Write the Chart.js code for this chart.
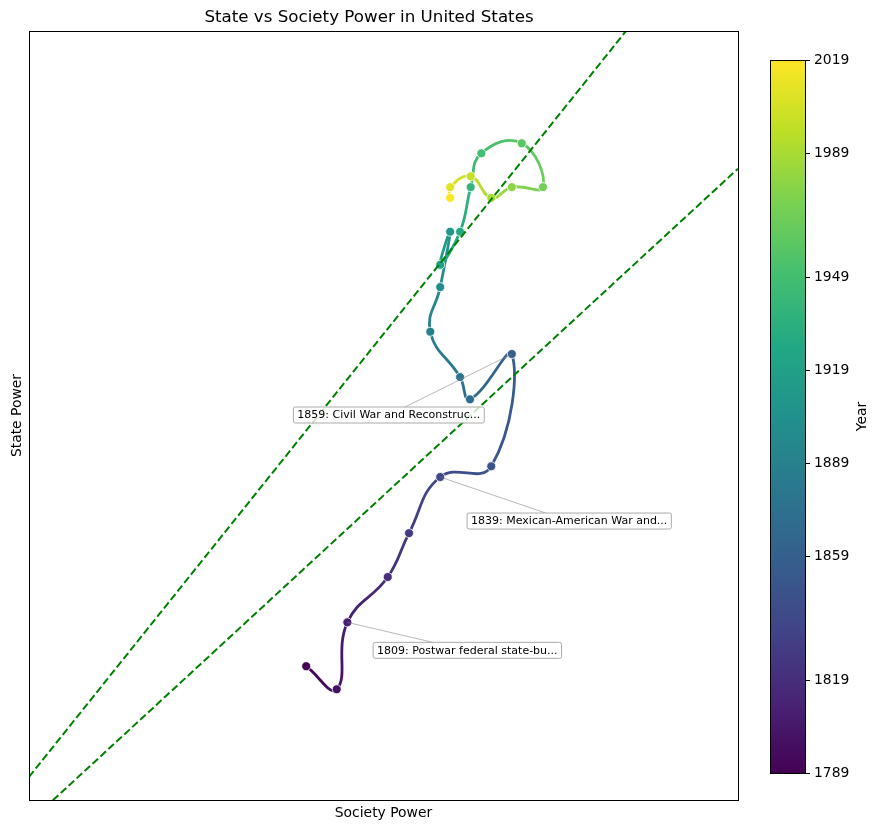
<!DOCTYPE html>
<html>
<head>
<meta charset="utf-8">
<script src="https://cdn.jsdelivr.net/npm/chart.js@4.4.0/dist/chart.umd.min.js"></script>
<style>
  html, body { margin: 0; padding: 0; background: #fff; }
  #wrap { width: 879px; height: 831px; }
</style>
</head>
<body>
<div id="wrap"><canvas id="chart" width="879" height="831"></canvas></div>
<script>
// trajectory, one point per decade
const years = [1789, 1799, 1809, 1819, 1829, 1839, 1849, 1859, 1869, 1879, 1889, 1899,
               1909, 1919, 1929, 1939, 1949, 1959, 1969, 1979, 1989, 1999, 2009, 2019];
const societyPower = [0.391, 0.434, 0.449, 0.506, 0.536, 0.580, 0.652, 0.681, 0.622, 0.608, 0.566, 0.580,
                      0.594, 0.580, 0.608, 0.623, 0.638, 0.695, 0.725, 0.681, 0.652, 0.623, 0.594, 0.594];
const statePower = [0.174, 0.144, 0.231, 0.290, 0.347, 0.420, 0.434, 0.580, 0.521, 0.550, 0.609, 0.667,
                    0.739, 0.696, 0.739, 0.797, 0.841, 0.854, 0.797, 0.797, 0.783, 0.811, 0.797, 0.783];

// the two dashed reference lines, y = a + b*x
const boundarySlopes = [1.152, 0.850];
const boundaryIntercepts = [0.030, -0.029];

const noteYears = [1859, 1839, 1809];
const noteTexts = ['1859: Civil War and Reconstruc...',
                   '1839: Mexican-American War and...',
                   '1809: Postwar federal state-bu...'];

const colorbarTicks = [1789, 1819, 1859, 1889, 1919, 1949, 1989, 2019];
const yearMin = 1789, yearMax = 2019;

const FONT = "'DejaVu Sans', sans-serif";

const viridisStops = ['#440154', '#482475', '#414487', '#355f8d', '#2a788e', '#21918c',
                      '#22a884', '#44bf70', '#7ad151', '#bddf26', '#fde725'];
function hexRgb(h) {
  return [parseInt(h.slice(1, 3), 16), parseInt(h.slice(3, 5), 16), parseInt(h.slice(5, 7), 16)];
}
function viridis(t) {
  t = Math.max(0, Math.min(1, t));
  const f = t * (viridisStops.length - 1);
  const i = Math.min(Math.floor(f), viridisStops.length - 2);
  const u = f - i;
  const a = hexRgb(viridisStops[i]), b = hexRgb(viridisStops[i + 1]);
  const c = a.map((v, k) => Math.round(v + (b[k] - v) * u));
  return 'rgb(' + c.join(',') + ')';
}
const yearColor = y => viridis((y - yearMin) / (yearMax - yearMin));

const canvas = document.getElementById('chart');
const ctx2d = canvas.getContext('2d');

const trajectory = years.map((y, i) => ({ x: societyPower[i], y: statePower[i] }));
const boundaryData = boundarySlopes.map((b, i) => [
  { x: 0, y: boundaryIntercepts[i] },
  { x: 1, y: boundaryIntercepts[i] + b }
]);

const frame = {
  id: 'frame',
  afterDatasetsDraw(chart) {
    const { left, top, right, bottom } = chart.chartArea;
    const ctx = chart.ctx;
    ctx.save();
    ctx.strokeStyle = '#000';
    ctx.lineWidth = 1;
    ctx.strokeRect(Math.round(left) + 0.5, Math.round(top) + 0.5,
                   Math.round(right - left), Math.round(bottom - top));
    ctx.restore();
  }
};

const notes = {
  id: 'notes',
  afterDatasetsDraw(chart, args, opts) {
    const ctx = chart.ctx;
    const xs = chart.scales.x, ys = chart.scales.y;
    ctx.save();
    ctx.font = '11px ' + FONT;
    noteYears.forEach((yr, n) => {
      const i = years.indexOf(yr);
      const px = xs.getPixelForValue(societyPower[i]);
      const py = ys.getPixelForValue(statePower[i]);
      const cx = px + opts.offsets[n][0], cy = py + opts.offsets[n][1];
      const tw = ctx.measureText(noteTexts[n]).width;
      const w = tw + 8, h = 16;
      // connector from box edge to the point
      const dx = px - cx, dy = py - cy;
      const s = Math.min(Math.abs(w / 2 / dx), Math.abs(h / 2 / dy));
      ctx.strokeStyle = 'rgba(128,128,128,0.7)';
      ctx.lineWidth = 0.8;
      ctx.beginPath();
      ctx.moveTo(cx + dx * s, cy + dy * s);
      ctx.lineTo(px, py);
      ctx.stroke();
      ctx.fillStyle = 'rgba(255,255,255,0.8)';
      ctx.strokeStyle = '#aaa';
      ctx.lineWidth = 1;
      ctx.beginPath();
      ctx.roundRect(cx - w / 2, cy - h / 2, w, h, 2);
      ctx.fill();
      ctx.stroke();
      ctx.fillStyle = '#000';
      ctx.textAlign = 'center';
      ctx.textBaseline = 'middle';
      ctx.fillText(noteTexts[n], cx, cy + 0.5);
    });
    ctx.restore();
  }
};

const colorbar = {
  id: 'colorbar',
  afterDraw(chart) {
    const ctx = chart.ctx;
    const area = chart.chartArea;
    const x0 = area.right + 32, x1 = x0 + 35;
    const top = area.top + 29, bottom = area.bottom - 27;
    const g = ctx.createLinearGradient(0, bottom, 0, top);
    viridisStops.forEach((c, i) => g.addColorStop(i / (viridisStops.length - 1), c));
    ctx.save();
    ctx.fillStyle = g;
    ctx.fillRect(x0, top, x1 - x0, bottom - top);
    ctx.strokeStyle = '#000';
    ctx.lineWidth = 1;
    ctx.strokeRect(x0 + 0.5, top + 0.5, x1 - x0, bottom - top);
    ctx.font = '13.9px ' + FONT;
    ctx.fillStyle = '#000';
    ctx.textAlign = 'left';
    ctx.textBaseline = 'middle';
    colorbarTicks.forEach(yr => {
      const y = Math.round(bottom - (yr - yearMin) / (yearMax - yearMin) * (bottom - top)) + 0.5;
      ctx.beginPath();
      ctx.moveTo(x1, y);
      ctx.lineTo(x1 + 5, y);
      ctx.stroke();
      ctx.fillText(String(yr), x1 + 9, y);
    });
    ctx.translate(862, (top + bottom) / 2);
    ctx.rotate(-Math.PI / 2);
    ctx.textAlign = 'center';
    ctx.fillText('Year', 0, 0);
    ctx.restore();
  }
};

new Chart(canvas, {
  type: 'scatter',
  data: {
    datasets: [
      ...boundaryData.map((d, i) => ({
        type: 'line',
        data: d,
        borderColor: '#008000',
        borderWidth: 2,
        borderDash: [7.5, 3.3],
        pointRadius: 0,
        fill: false,
        order: 0
      })),
      {
        type: 'line',
        data: trajectory,
        showLine: true,
        tension: 0.45,
        borderWidth: 2.8,
        segment: {
          borderColor: c => {
            const g = ctx2d.createLinearGradient(c.p0.x, c.p0.y, c.p1.x, c.p1.y);
            g.addColorStop(0, yearColor(years[c.p0DataIndex]));
            g.addColorStop(1, yearColor(years[c.p1DataIndex]));
            return g;
          }
        },
        pointRadius: 4.5,
        pointBackgroundColor: years.map(yearColor),
        pointBorderColor: '#fff',
        pointBorderWidth: 0.8,
        fill: false,
        order: 1
      }
    ]
  },
  options: {
    responsive: false,
    animation: false,
    devicePixelRatio: 1,
    layout: { padding: { left: 0, right: 141, top: 0, bottom: 0 } },
    plugins: {
      legend: { display: false },
      tooltip: { enabled: false },
      title: {
        display: true,
        text: 'State vs Society Power in United States',
        color: '#000',
        font: { family: FONT, size: 16.7, weight: 'normal' },
        padding: { top: 8, bottom: 3 }
      },
      notes: { offsets: [[-123, 61], [129, 44], [120, 28]] }
    },
    scales: {
      x: {
        type: 'linear', min: 0, max: 1,
        grid: { display: false },
        border: { display: false },
        ticks: { display: false },
        title: { display: true, text: 'Society Power', color: '#000',
                 font: { family: FONT, size: 13.9 }, padding: { top: 0, bottom: 9 } },
        afterFit: s => { s.height = 31; }
      },
      y: {
        type: 'linear', min: 0, max: 1,
        grid: { display: false },
        border: { display: false },
        ticks: { display: false },
        title: { display: true, text: 'State Power', color: '#000',
                 font: { family: FONT, size: 13.9 }, padding: { top: 9, bottom: 0 } },
        afterFit: s => { s.width = 29; }
      }
    }
  },
  plugins: [frame, notes, colorbar]
});
</script>
</body>
</html>
